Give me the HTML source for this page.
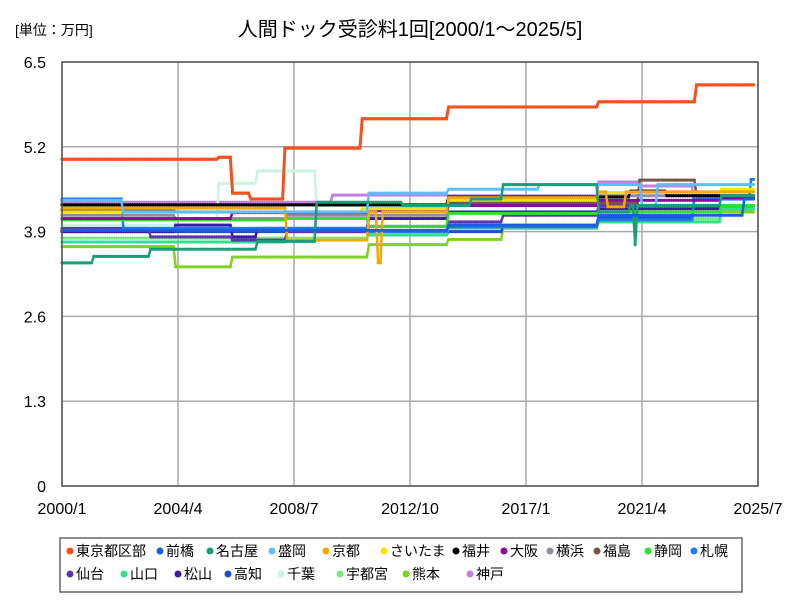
<!DOCTYPE html>
<html><head><meta charset="utf-8"><style>
body{margin:0;background:#fff;}
svg{display:block;font-family:"Liberation Sans","Noto Sans CJK JP",sans-serif;}
</style></head><body>
<svg id="chart" width="800" height="600">
<text x="15" y="35" font-size="14">[単位：万円]</text>
<text x="410" y="36" font-size="20" text-anchor="middle">人間ドック受診料1回[2000/1～2025/5]</text>
<g id="grid"></g><g id="series"></g><g id="axes"></g>
<rect x="60" y="538" width="682" height="54" fill="#fff" stroke="#666" stroke-width="1.5"/>
<g id="legend"></g>
</svg>
<script>
const yTicks=[0,1.3,2.6,3.9,5.2,6.5];
const yTickLabels=["0","1.3","2.6","3.9","5.2","6.5"];
const xTickMonths=[0,51,102,153,204,255,306];
const xTickLabels=["2000/1","2004/4","2008/7","2012/10","2017/1","2021/4","2025/7"];
const seriesNames=["東京都区部","前橋","名古屋","盛岡","京都","さいたま","福井","大阪","横浜","福島","静岡","札幌","仙台","山口","松山","高知","千葉","宇都宮","熊本","神戸"];
const seriesColors=["#f4511e","#1a5fe0","#1a9e78","#5bc0f8","#f2a900","#f5e400","#000000","#8b0a9a","#8c9199","#795548","#33dd33","#1e7be8","#5e35b1","#33e08f","#3a1aa8","#1f50c8","#c8f5e0","#7ee87e","#7ed320","#c080e0"];
// step change points: [month index from 2000/1, value]
const tokyo=[[0,5.01],[69,5.04],[75,4.49],[83,4.40],[98,5.18],[132,5.63],[170,5.81],[236,5.89],[279,6.15]];
const maebashi=[[0,3.92],[170,4.0],[236,4.15],[300,4.4]];
const nagoya=[[0,3.42],[14,3.52],[39,3.63],[86,3.75],[112,4.35],[150,4.3],[180,4.4],[194,4.62],[236,4.2],[250,4.3],[252,3.7],[253,4.3],[290,4.45]];
const morioka=[[0,4.38],[27,4.20],[135,4.49],[170,4.55],[210,4.62],[255,4.3],[262,4.62]];
const kyoto=[[0,4.26],[99,3.77],[135,4.2],[139,3.42],[141,4.2],[170,4.42],[236,4.51],[240,4.28],[248,4.51]];
const saitama=[[0,4.2],[132,4.25],[170,4.38],[236,4.5],[290,4.55]];
const fukui=[[0,4.31],[170,4.43],[250,4.52],[266,4.45]];
const osaka=[[0,4.1],[75,4.19],[135,4.22],[170,4.3],[236,4.38],[290,4.42]];
const yokohama=[[0,4.15],[50,4.1],[99,4.15],[170,4.3],[236,4.45]];
const fukushima=[[0,4.23],[50,4.2],[135,4.25],[170,4.34],[254,4.69],[279,4.45]];
const shizuoka=[[0,4.08],[99,4.1],[135,3.98],[170,4.18],[236,4.2],[290,4.3]];
const sapporo=[[0,4.40],[27,3.95],[135,3.9],[170,3.97],[236,4.08],[278,4.4],[303,4.7]];
const sendai=[[0,3.95],[39,3.82],[75,3.77],[99,3.9],[135,3.98],[170,4.05],[194,4.15],[236,4.3]];
const yamaguchi=[[0,3.74],[99,3.92],[135,3.85],[170,3.97],[236,4.05],[290,4.25]];
const matsuyama=[[0,3.9],[50,4.0],[75,3.82],[86,3.95],[135,4.1],[170,4.2],[236,4.25]];
const kochi=[[0,3.9],[135,3.85],[170,3.9],[194,3.98],[236,4.12],[278,4.4]];
const chiba=[[0,4.0],[50,4.1],[69,4.64],[86,4.83],[112,4.3],[170,4.4],[236,4.5]];
const utsunomiya=[[0,3.8],[135,3.85],[170,3.95],[236,4.1],[290,4.25]];
const kumamoto=[[0,3.67],[50,3.36],[75,3.51],[135,3.7],[170,3.78],[194,3.95],[236,4.05],[290,4.2]];
const kobe=[[0,4.35],[119,4.46],[170,4.45],[236,4.66],[254,4.6],[278,4.26]];
const seriesSteps=[tokyo,maebashi,nagoya,morioka,kyoto,saitama,fukui,osaka,yokohama,fukushima,shizuoka,sapporo,sendai,yamaguchi,matsuyama,kochi,chiba,utsunomiya,kumamoto,kobe];
const nMonths=305;

const NS="http://www.w3.org/2000/svg";
const L=62,R=758,T=62,B=486;
function xs(m){return L+m*(R-L)/306;}
function ys(v){return B-v*(B-T)/6.5;}
function mk(tag,attrs,parent){const e=document.createElementNS(NS,tag);for(const k in attrs)e.setAttribute(k,attrs[k]);parent.appendChild(e);return e;}
const grid=document.getElementById('grid'),axes=document.getElementById('axes'),sg=document.getElementById('series'),lg=document.getElementById('legend');
yTicks.forEach((v,i)=>{
  const l=mk('line',{x1:L,x2:R,y1:ys(v),y2:ys(v),stroke:'#aaa','stroke-width':1.5},grid);
  
  
  const t=mk('text',{x:46,y:ys(v)+6,'font-size':16,'text-anchor':'end'},axes);t.textContent=yTickLabels[i];
  
  
});
xTickMonths.forEach((m,i)=>{
  const l=mk('line',{x1:xs(m),x2:xs(m),y1:T,y2:B,stroke:'#aaa','stroke-width':1.5},grid);
  
  
  const t=mk('text',{x:xs(m),y:514,'font-size':16,'text-anchor':'middle'},axes);t.textContent=xTickLabels[i];
  
  
});
const fr=mk('rect',{x:L,y:T,width:R-L,height:B-T,fill:'none',stroke:'#555','stroke-width':1.5},axes);


function expand(steps){const out=[];let k=0;for(let m=0;m<nMonths;m++){while(k+1<steps.length&&steps[k+1][0]<=m)k++;out.push(steps[k][1]);}return out;}
for(let s=seriesSteps.length-1;s>=0;s--){
  const vals=expand(seriesSteps[s]);
  const g=mk('g',{},sg);
  
  
  const p=mk('polyline',{points:vals.map((v,m)=>xs(m)+','+ys(v)).join(' '),fill:'none',stroke:seriesColors[s],'stroke-width':s===0?3:2.5},g);
  
  
  vals.forEach((v,m)=>{const c=mk('circle',{cx:xs(m),cy:ys(v),r:1.6,fill:seriesColors[s]},g);
    
    });
}
const row1=[66,156,206,268,322,380,452,500,546,593,644,690];
const row2=[66,120,174,224,277,336,402,466,518];
seriesNames.forEach((n,i)=>{
  const x=i<12?row1[i]:row2[i-12],y=i<12?551:574;
  const g=mk('g',{},lg);
  
  
  mk('circle',{cx:x+4,cy:y,r:3.5,fill:seriesColors[i]},g);
  const t=mk('text',{x:x+10,y:y+5,'font-size':14},g);t.textContent=n;
});
</script>
</body></html>
